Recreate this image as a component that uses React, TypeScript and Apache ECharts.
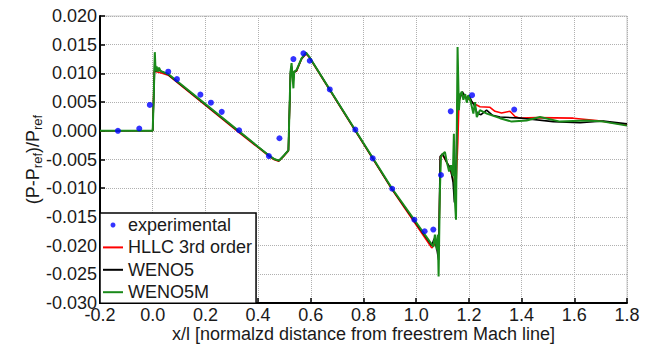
import React, { useEffect, useRef } from "react";
import * as echarts from "echarts";

const xTicks = { min: -0.2, max: 1.8, interval: 0.2 };
const yTicks = { min: -0.03, max: 0.02, interval: 0.005 };

const seriesNames = ["experimental", "HLLC 3rd order", "WENO5", "WENO5M"];

const experimental: [number, number][] = [
  [-0.132, 0.0], [-0.051, 0.0004], [-0.011, 0.0045], [0.059, 0.0103], [0.092, 0.009],
  [0.181, 0.0063], [0.221, 0.0049], [0.262, 0.0033], [0.328, 0.0001], [0.441, -0.0044],
  [0.481, -0.0013], [0.534, 0.0125], [0.572, 0.0135], [0.596, 0.0122], [0.672, 0.0072],
  [0.769, 0.0002], [0.835, -0.0048], [0.909, -0.0101], [0.993, -0.0155], [1.032, -0.0175],
  [1.065, -0.0172], [1.094, -0.0077], [1.131, 0.0034], [1.212, 0.0062], [1.372, 0.0037],
];

const hllc: [number, number][] = [
  [-0.2, 0], [0, 0], [0.006, 0.0104], [0.03, 0.0101], [0.059, 0.0097], [0.328, -0.0003],
  [0.441, -0.0044], [0.46, -0.005], [0.478, -0.0053], [0.498, -0.0044], [0.515, -0.0035],
  [0.523, 0.01], [0.546, 0.0104], [0.565, 0.0125], [0.582, 0.0134], [0.594, 0.0128],
  [0.673, 0.007], [0.909, -0.0103], [1.059, -0.0204], [1.075, -0.0195], [1.085, -0.0215],
  [1.092, -0.0045], [1.1, -0.0042], [1.116, -0.0055], [1.13, -0.0068], [1.143, -0.009],
  [1.152, -0.0085], [1.158, -0.002], [1.162, 0.0045], [1.166, 0.0062], [1.175, 0.0066],
  [1.19, 0.0058], [1.2, 0.0055], [1.217, 0.0048], [1.242, 0.0042], [1.28, 0.0041],
  [1.299, 0.0034], [1.324, 0.0031], [1.356, 0.0034], [1.375, 0.0025], [1.394, 0.0022],
  [1.457, 0.0023], [1.596, 0.0022], [1.685, 0.0018], [1.8, 0.001],
];

const weno5: [number, number][] = [
  [-0.2, 0], [0, 0], [0.004, 0.006], [0.008, 0.0122], [0.012, 0.0104], [0.02, 0.0108],
  [0.03, 0.0104], [0.059, 0.0098], [0.328, -0.0002], [0.441, -0.0043], [0.46, -0.0049],
  [0.479, -0.0052], [0.498, -0.0043], [0.515, -0.0034], [0.523, 0.0102], [0.527, 0.0112],
  [0.533, 0.0085], [0.537, 0.0102], [0.546, 0.0105], [0.565, 0.0126], [0.582, 0.0135],
  [0.594, 0.0129], [0.673, 0.0071], [0.909, -0.0102], [1.059, -0.02], [1.068, -0.0188],
  [1.078, -0.0205], [1.085, -0.0225], [1.091, -0.0045], [1.1, -0.004], [1.116, -0.0055],
  [1.13, -0.0065], [1.14, -0.009], [1.145, -0.0125], [1.152, -0.005], [1.156, 0.005],
  [1.16, 0.0066], [1.165, 0.0055], [1.175, 0.0068], [1.19, 0.0056], [1.2, 0.0062],
  [1.21, 0.0052], [1.22, 0.0045], [1.232, 0.003], [1.246, 0.0028], [1.267, 0.0036],
  [1.29, 0.0027], [1.318, 0.0024], [1.4, 0.0022], [1.52, 0.0016], [1.622, 0.0014],
  [1.71, 0.0017], [1.8, 0.0012],
];

const weno5m: [number, number][] = [
  [-0.2, 0], [0, 0], [0.004, 0.006], [0.008, 0.0137], [0.011, 0.0104], [0.015, 0.0112],
  [0.019, 0.0103], [0.024, 0.011], [0.03, 0.0104], [0.059, 0.0099], [0.328, -0.0001],
  [0.441, -0.0043], [0.46, -0.0049], [0.48, -0.0052], [0.498, -0.0043], [0.515, -0.0034],
  [0.523, 0.0103], [0.527, 0.0118], [0.534, 0.0074], [0.537, 0.0103], [0.546, 0.0106],
  [0.565, 0.0126], [0.582, 0.0136], [0.594, 0.0129], [0.673, 0.0071], [0.909, -0.0101],
  [1.059, -0.0198], [1.065, -0.0202], [1.071, -0.0181], [1.078, -0.0207], [1.082, -0.0181],
  [1.085, -0.0254], [1.09, -0.0103], [1.094, -0.0045], [1.1, -0.0041], [1.109, -0.0037],
  [1.116, -0.0054], [1.125, -0.0071], [1.132, -0.006], [1.139, -0.0079], [1.143, -0.0005],
  [1.146, -0.0115], [1.151, -0.0155], [1.157, 0.0146], [1.162, 0.0036], [1.166, 0.0062],
  [1.173, 0.0068], [1.179, 0.0054], [1.186, 0.0064], [1.192, 0.0049], [1.198, 0.0062],
  [1.207, 0.005], [1.217, 0.003], [1.223, 0.005], [1.23, 0.0024], [1.242, 0.0036],
  [1.268, 0.003], [1.318, 0.0022], [1.362, 0.0016], [1.419, 0.0018], [1.47, 0.0024],
  [1.546, 0.0016], [1.647, 0.0018], [1.71, 0.0016], [1.8, 0.0009],
];

const FONT = "'Liberation Sans', Arial, sans-serif";
const TEXT = "#1a1a1a";
const LINE_ICON = "path://M0,0M0,1.5L20,1.5L20,3.5L0,3.5ZM20,5";

export default function App() {
  const ref = useRef<HTMLDivElement>(null);
  useEffect(() => {
    if (!ref.current) return;
    const chart = echarts.init(ref.current, undefined, { renderer: "svg" });
    const lineSeries = (name: string, data: [number, number][], color: string, width: number) => ({
      name,
      type: "line",
      data,
      symbol: "none",
      showSymbol: false,
      lineStyle: { color, width },
      itemStyle: { color },
      z: 3,
    });
    chart.setOption({
      animation: false,
      backgroundColor: "#fff",
      textStyle: { fontFamily: FONT },
      grid: {
        left: 100,
        right: 19,
        top: 16,
        bottom: 42,
        containLabel: false,
        outerBoundsMode: "none",
        show: true,
        borderColor: "#c8c8c8",
        borderWidth: 1,
      },
      legend: {
        data: [
          { name: seriesNames[0], icon: "circle" },
          { name: seriesNames[1], icon: LINE_ICON },
          { name: seriesNames[2], icon: LINE_ICON },
          { name: seriesNames[3], icon: LINE_ICON },
        ],
        orient: "vertical",
        left: 100,
        top: 213,
        backgroundColor: "#fff",
        borderColor: "#000",
        borderWidth: 1.5,
        borderRadius: 0,
        padding: [3, 4, 2, 3],
        itemWidth: 20,
        itemHeight: 5,
        itemGap: 4.4,
        textStyle: { fontSize: 18, fontFamily: FONT, color: TEXT },
        z: 10,
      },
      xAxis: {
        type: "value",
        min: xTicks.min,
        max: xTicks.max,
        interval: xTicks.interval,
        name: "x/l [normalzd distance from freestrem Mach line]",
        nameLocation: "middle",
        nameGap: 22,
        nameMoveOverlap: false,
        nameTextStyle: { fontSize: 18, fontFamily: FONT, color: TEXT },
        axisLine: { onZero: false, lineStyle: { color: "#000", width: 2 } },
        axisTick: { inside: true, length: 5, lineStyle: { color: "#000", width: 1.5 } },
        axisLabel: {
          fontSize: 18,
          fontFamily: FONT,
          color: TEXT,
          margin: 3,
          formatter: (v: number) => v.toFixed(1),
        },
        splitLine: { show: true, lineStyle: { color: "#b0b0b0", type: [1, 1], width: 1 } },
      },
      yAxis: {
        type: "value",
        min: yTicks.min,
        max: yTicks.max,
        interval: yTicks.interval,
        name: "{n|(P-P}{s|ref}{n|)/P}{s|ref}",
        nameLocation: "middle",
        nameRotate: 90,
        nameGap: 56,
        nameMoveOverlap: false,
        nameTextStyle: {
          fontFamily: FONT,
          color: TEXT,
          rich: {
            n: { fontSize: 18, fontFamily: FONT, color: TEXT, lineHeight: 20 },
            s: {
              fontSize: 13,
              fontFamily: FONT,
              color: TEXT,
              verticalAlign: "bottom",
              padding: [10, 0, 0, 0],
            },
          },
        },
        axisLine: { onZero: false, lineStyle: { color: "#000", width: 2 } },
        axisTick: { inside: true, length: 5, lineStyle: { color: "#000", width: 1.5 } },
        axisLabel: {
          fontSize: 18,
          fontFamily: FONT,
          color: TEXT,
          margin: 3,
          formatter: (v: number) => v.toFixed(3),
        },
        splitLine: { show: true, lineStyle: { color: "#b0b0b0", type: [1, 1], width: 1 } },
      },
      series: [
        lineSeries(seriesNames[1], hllc, "#ff0000", 1.6),
        lineSeries(seriesNames[2], weno5, "#000000", 1.6),
        lineSeries(seriesNames[3], weno5m, "#1a8a1a", 2),
        {
          name: seriesNames[0],
          type: "scatter",
          data: experimental,
          symbol: "circle",
          symbolSize: 6,
          itemStyle: { color: "#0000ff" },
          z: 5,
        },
      ],
    });
    return () => chart.dispose();
  }, []);
  return <div ref={ref} style={{ width: 646, height: 345, position: "fixed", left: 0, top: 0 }} />;
}
